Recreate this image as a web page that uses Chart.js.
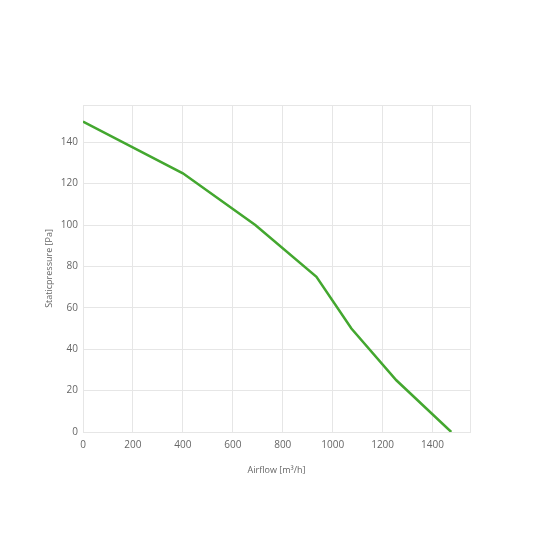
<!DOCTYPE html>
<html>
<head>
<meta charset="utf-8">
<script src="https://cdn.jsdelivr.net/npm/chart.js@4.4.1/dist/chart.umd.min.js"></script>
<style>
  html, body { margin: 0; padding: 0; background: #fff; }
  #wrap { width: 533px; height: 533px; }
</style>
</head>
<body>
<div id="wrap"><canvas id="fanChart"></canvas></div>
<script>
// fan curve
var airflow = [0, 400, 690, 935, 1075, 1255, 1475];
var staticPressure = [150, 125, 100, 75, 50, 25, 0];

var xTitle = 'Airflow [m³/h]';
var yTitle = 'Staticpressure [Pa]';

var points = airflow.map(function(x, i) {
    return { x: x, y: staticPressure[i] };
});

var gridColor = '#e6e6e6';
var tickColor = '#666';

var ctx = document.getElementById('fanChart').getContext('2d');
var myChart = new Chart(ctx, {
    type: 'scatter',
    data: {
        datasets: [{
            data: points,
            showLine: true,
            borderColor: '#43a72f',
            borderWidth: 2.5,
            pointRadius: 0,
            fill: false,
            tension: 0
        }]
    },
    options: {
        responsive: true,
        maintainAspectRatio: false,
        animation: false,
        layout: {
            padding: { top: 105, right: 63, bottom: 57, left: 44 }
        },
        plugins: {
            legend: { display: false },
            tooltip: { enabled: false }
        },
        scales: {
            x: {
                type: 'linear',
                min: 0,
                max: 1550,
                grid: { color: gridColor, drawTicks: false },
                border: { color: gridColor },
                ticks: {
                    stepSize: 200,
                    padding: 7,
                    color: tickColor,
                    font: { family: 'Open Sans', size: 10 },
                    maxRotation: 0,
                    callback: function(v) { return v % 200 === 0 ? v : ''; }
                },
                title: {
                    display: true,
                    text: xTitle,
                    color: tickColor,
                    font: { family: 'Open Sans', size: 9 },
                    padding: 0
                },
                afterFit: function(scale) { scale.height = 44; }
            },
            y: {
                min: 0,
                max: 158,
                grid: { color: gridColor, drawTicks: false },
                border: { color: gridColor },
                ticks: {
                    stepSize: 20,
                    padding: 5,
                    color: tickColor,
                    font: { family: 'Open Sans', size: 10 },
                    callback: function(v) { return v % 20 === 0 ? v : ''; }
                },
                title: {
                    display: true,
                    text: yTitle,
                    color: tickColor,
                    font: { family: 'Open Sans', size: 9 },
                    padding: 0
                },
                afterFit: function(scale) { scale.width = 39; }
            }
        }
    }
});
</script>
</body>
</html>
